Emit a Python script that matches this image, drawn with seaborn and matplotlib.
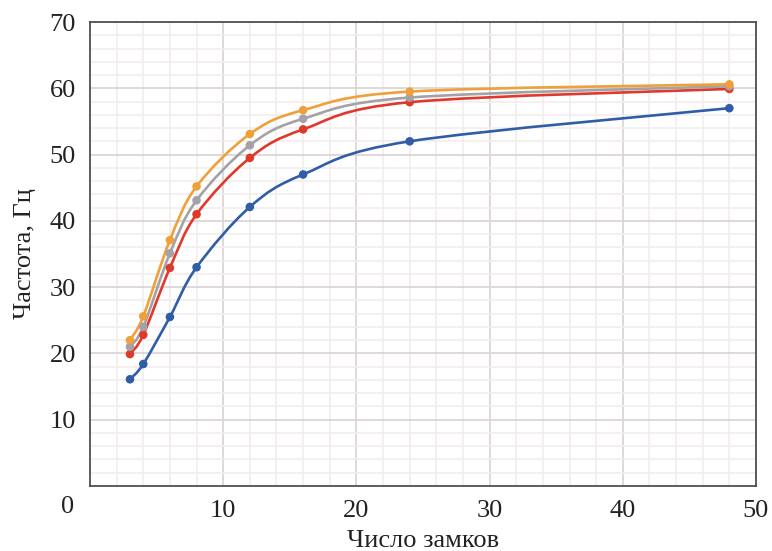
import numpy as np
import pandas as pd
import matplotlib
matplotlib.use("Agg")
import matplotlib.pyplot as plt
from matplotlib.path import Path
from matplotlib.patches import PathPatch
from matplotlib.ticker import MultipleLocator
import seaborn as sns

# Number of locks and the resulting frequency (Hz) for four configurations
locks = [3, 4, 6, 8, 12, 16, 24, 48]
freq_blue = [16.1, 18.4, 25.5, 33.0, 42.1, 47.0, 52.0, 57.0]
freq_red = [19.9, 22.8, 32.9, 41.0, 49.5, 53.8, 57.9, 59.9]
freq_gray = [21.0, 24.0, 35.1, 43.1, 51.4, 55.4, 58.6, 60.3]
freq_orange = [22.0, 25.6, 37.1, 45.2, 53.1, 56.7, 59.5, 60.6]

series_names = ["s1", "s2", "s3", "s4"]
series_values = [freq_blue, freq_red, freq_gray, freq_orange]
palette = ["#2f5da8", "#e0392b", "#a3a2a8", "#efa03a"]

x_ticks = [10, 20, 30, 40, 50]
y_ticks = [10, 20, 30, 40, 50, 60, 70]

df = pd.DataFrame({
    "locks": np.tile(locks, len(series_names)),
    "freq": np.concatenate(series_values),
    "series": np.repeat(series_names, len(locks)),
})

sns.set_theme(style="white")
plt.rcParams["font.family"] = ["Liberation Serif", "DejaVu Serif"]

fig = plt.figure(figsize=(7.72, 5.51), dpi=100)
ax = fig.add_axes([90 / 772, 1 - 486 / 551, (756 - 90) / 772, (486 - 22) / 551])


def smooth_path(xs, ys):
    """Cubic Bezier path through the points (Catmull-Rom style smoothing)."""
    pts = np.column_stack([xs, ys]).astype(float)
    n = len(pts)
    verts = [pts[0]]
    codes = [Path.MOVETO]
    for i in range(n - 1):
        p0 = pts[i - 1] if i > 0 else pts[i]
        p1 = pts[i]
        p2 = pts[i + 1]
        p3 = pts[i + 2] if i + 2 < n else pts[i + 1]
        c1 = p1 + (p2 - p0) / 6.0
        c2 = p2 - (p3 - p1) / 6.0
        verts.extend([c1, c2, p2])
        codes.extend([Path.CURVE4] * 3)
    return Path(verts, codes)


for name, vals, col in zip(series_names, series_values, palette):
    patch = PathPatch(smooth_path(locks, vals), facecolor="none",
                      edgecolor=col, lw=1.9, zorder=3, capstyle="round")
    ax.add_patch(patch)

sns.scatterplot(data=df, x="locks", y="freq", hue="series",
                palette=palette, s=38, linewidth=0, legend=False,
                zorder=4, ax=ax)

ax.set_xlim(0, 50)
ax.set_ylim(0, 70)
ax.set_xticks(x_ticks)
ax.set_yticks(y_ticks)
ax.xaxis.set_minor_locator(MultipleLocator(2))
ax.yaxis.set_minor_locator(MultipleLocator(2))
ax.grid(which="major", color="#dcd5d5", lw=1.3, zorder=1)
ax.grid(which="minor", color="#f2eeee", lw=1.2, zorder=0)
ax.set_axisbelow(True)

for sp in ax.spines.values():
    sp.set_color("#505050")
    sp.set_linewidth(1.3)

ax.tick_params(axis="both", which="both", length=0, labelsize=19,
               colors="#222222")
ax.tick_params(axis="x", pad=10)
ax.tick_params(axis="y", pad=10)

# Shared origin label at the lower-left corner
ax.text(-0.034, -0.022, "0", transform=ax.transAxes, ha="center", va="top",
        fontsize=19, color="#222222")

ax.set_xlabel("Число замков", fontsize=19, color="#222222", labelpad=6)
ax.set_ylabel("Частота, Гц", fontsize=19, color="#222222", labelpad=10)

fig.savefig("out.png", dpi=100, facecolor="white")
